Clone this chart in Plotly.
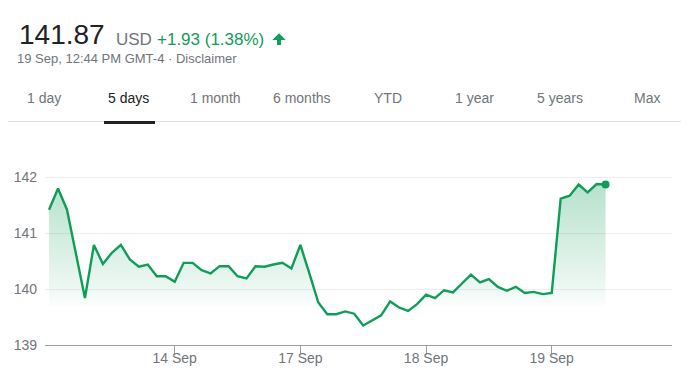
import plotly.graph_objects as go

# ---- data ----
prices = [141.42, 141.80, 141.42, 140.66, 139.84, 140.79, 140.45, 140.65, 140.79, 140.53,
          140.40, 140.44, 140.23, 140.23, 140.13, 140.47, 140.47, 140.34, 140.28, 140.41,
          140.41, 140.23, 140.19, 140.41, 140.40, 140.44, 140.47, 140.37, 140.79, 140.28,
          139.76, 139.55, 139.55, 139.60, 139.56, 139.35, 139.44, 139.53, 139.78, 139.67,
          139.61, 139.73, 139.90, 139.84, 139.98, 139.94, 140.10, 140.26, 140.12, 140.18,
          140.04, 139.97, 140.04, 139.93, 139.95, 139.91, 139.93, 141.62, 141.67, 141.87,
          141.73, 141.88, 141.87]
steps = list(range(len(prices)))
tick_positions = [14, 28, 42, 56]
tick_labels = ["14 Sep", "17 Sep", "18 Sep", "19 Sep"]
y_ticks = [139, 140, 141, 142]
tabs = ["1 day", "5 days", "1 month", "6 months", "YTD", "1 year", "5 years", "Max"]
active_tab = "5 days"
price_text = "141.87"
currency = "USD"
change_text = "+1.93 (1.38%)"
stamp_text = "19 Sep, 12:44 PM GMT-4 · Disclaimer"

# ---- layout geometry (page pixels; the page body has an 8px margin) ----
PAGE_W, PAGE_H = 689, 376
OFF = 8
W, H = PAGE_W - OFF, PAGE_H - OFF
PL, PR, PT, PB = 45, 672, 160, 345          # plot area in page pixels
L, T = PL - OFF, PT - OFF
R, B = W - (PR - OFF), H - (PB - OFF)
PW, PH = W - L - R, H - T - B


def px(x):
    return (x - OFF - L) / PW


def py(y):
    return (H - B - (y - OFF)) / PH


GREEN = "#0f9d58"
GRAY = "#70757a"
DARK = "#222222"
FONT = "Liberation Sans, Arial, sans-serif"

fig = go.Figure()
fig.add_trace(go.Scatter(
    x=steps, y=prices, mode="lines",
    line=dict(color=GREEN, width=2.4),
    fill="tozeroy",
    fillgradient=dict(
        type="vertical",
        colorscale=[[0, "rgba(15,157,88,0)"], [0.15, "rgba(15,157,88,0.07)"], [1, "rgba(15,157,88,0.32)"]],
        start=139.65, stop=142.0,
    ),
    hoverinfo="skip",
))
fig.add_trace(go.Scatter(
    x=[steps[-1]], y=[prices[-1]], mode="markers",
    marker=dict(color=GREEN, size=8), hoverinfo="skip",
))

PAD = 3  # annotation inner padding compensation
ann = []
ann.append(dict(text=price_text, x=px(20 - PAD), y=py(34.7), font=dict(size=28, color=DARK)))
ann.append(dict(text=currency, x=px(117.3 - PAD), y=py(39.5), font=dict(size=17, color=GRAY)))
ann.append(dict(text=change_text, x=px(158.3 - PAD), y=py(39.5), font=dict(size=17, color=GREEN)))
ann.append(dict(text=stamp_text, x=px(18.3 - PAD), y=py(58.5), font=dict(size=13, color=GRAY)))
tab_centers = [43.7, 128.8, 215.3, 301.7, 387.7, 474.5, 560, 646.5]
for t, cx in zip(tabs, tab_centers):
    ann.append(dict(text=t, x=px(cx), y=py(98), xanchor="center",
                    font=dict(size=14, color=DARK if t == active_tab else GRAY)))
for a in ann:
    a.setdefault("xanchor", "left")
    a.update(xref="paper", yref="paper", yanchor="middle", showarrow=False)

arrow_pts = [(272.3, 40), (279, 33.3), (285.7, 40), (281, 40), (281, 45), (277, 45), (277, 40)]
arrow_path = "M " + " L ".join(f"{px(x):.5f},{py(y):.5f}" for x, y in arrow_pts) + " Z"

shapes = [
    dict(type="path", path=arrow_path, xref="paper", yref="paper",
         fillcolor=GREEN, line=dict(width=0)),
    dict(type="line", x0=px(0), x1=px(PAGE_W), y0=py(121.5), y1=py(121.5), xref="paper", yref="paper",
         line=dict(color="#e3e3e3", width=1)),
    dict(type="rect", x0=px(104), x1=px(155), y0=py(121), y1=py(124), xref="paper", yref="paper",
         fillcolor=DARK, line=dict(width=0)),
]

fig.update_layout(
    width=W, height=H,
    margin=dict(l=L, r=R, t=T, b=B, pad=0, autoexpand=False),
    paper_bgcolor="white", plot_bgcolor="white",
    showlegend=False,
    font=dict(family=FONT),
    annotations=ann,
    shapes=shapes,
    hovermode=False,
    xaxis=dict(
        range=[-0.45, 69.4], showgrid=False, zeroline=False, automargin=False,
        tickmode="array", tickvals=tick_positions, ticktext=tick_labels,
        ticks="outside", ticklen=8, tickcolor="#9e9e9e", tickwidth=1,
        showline=True, linecolor="#9e9e9e", linewidth=1,
        tickfont=dict(size=14, color=GRAY, family=FONT),
        ticklabelstandoff=-8,
    ),
    yaxis=dict(
        range=[139, 139 + PH / 55.9], showgrid=True, gridcolor="#eeeeee", gridwidth=1,
        zeroline=False, automargin=False, tickmode="array", tickvals=y_ticks,
        tickfont=dict(size=14, color=GRAY, family=FONT),
        ticks="", ticklabelstandoff=7,
    ),
)

fig.write_html("out.html", config={"displayModeBar": False})
